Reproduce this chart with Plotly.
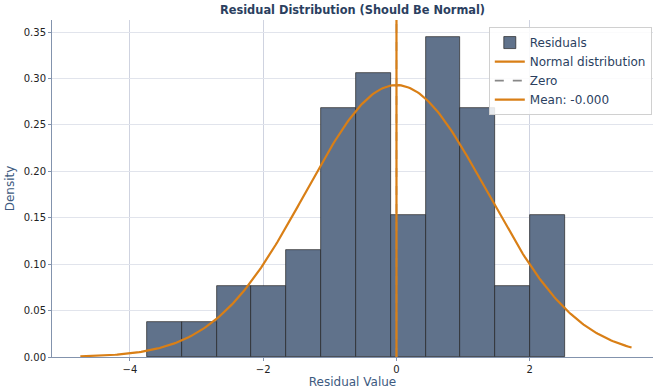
import numpy as np
import plotly.graph_objects as go

# Histogram of residuals: bin edges and counts per bin (n = 50)
bin_edges = [-3.745, -3.222, -2.699, -2.177, -1.654, -1.131, -0.609,
             -0.086, 0.437, 0.960, 1.482, 2.005, 2.528]
bin_counts = [1, 1, 2, 2, 3, 7, 8, 4, 9, 7, 2, 4]

# Fitted normal parameters and mean of residuals
mu = 0.0
sigma = 1.362
mean_label = "Mean: -0.000"

x_ticks = [-4, -2, 0, 2]
y_ticks = [0.00, 0.05, 0.10, 0.15, 0.20, 0.25, 0.30, 0.35]

edges = np.array(bin_edges)
counts = np.array(bin_counts)
widths = np.diff(edges)
centers = edges[:-1] + widths / 2
density = counts / (counts.sum() * widths)

xs = np.linspace(edges[0] - 1, edges[-1] + 1, 300)
pdf = np.exp(-0.5 * ((xs - mu) / sigma) ** 2) / (sigma * np.sqrt(2 * np.pi))

ORANGE = "#D97F16"
NAVY = "#2B3F5F"
Y_TOP = 0.363

fig = go.Figure()
fig.add_trace(go.Bar(
    x=centers, y=density, width=widths, name="Residuals",
    marker=dict(color="#60728B", line=dict(color="#222222", width=0.7)),
))
fig.add_trace(go.Scatter(
    x=xs, y=pdf, mode="lines", name="Normal distribution",
    line=dict(color=ORANGE, width=2.2),
))
fig.add_trace(go.Scatter(
    x=[0, 0], y=[0, Y_TOP], mode="lines", name="Zero",
    line=dict(color="#888888", width=1.6, dash="dash"),
))
fig.add_trace(go.Scatter(
    x=[mu, mu], y=[0, Y_TOP], mode="lines", name=mean_label,
    line=dict(color=ORANGE, width=2.2),
))

axis_line = "#8393AD"
fig.update_layout(
    width=655, height=390,
    margin=dict(l=52, r=2, t=20, b=33),
    paper_bgcolor="white", plot_bgcolor="white",
    font=dict(family="DejaVu Sans", size=10, color="#222222"),
    title=dict(text="<b>Residual Distribution (Should Be Normal)</b>",
               x=0.5, xref="paper", y=0.985, yanchor="top",
               font=dict(size=11.4, color=NAVY)),
    bargap=0,
    showlegend=True,
    legend=dict(x=0.998, y=0.979, xanchor="right", yanchor="top",
                bgcolor="rgba(255,255,255,0.85)", bordercolor="#d0d0d0", borderwidth=1,
                font=dict(size=12, color=NAVY), itemwidth=30, tracegroupgap=0),
    xaxis=dict(range=[-5.17, 3.85], tickvals=x_ticks,
               ticktext=["\u22124", "\u22122", "0", "2"],
               showgrid=True, gridcolor="#cfd3e0", gridwidth=0.8,
               showline=True, linecolor=axis_line, linewidth=1,
               ticks="outside", ticklen=3, tickcolor=axis_line,
               zeroline=False,
               title=dict(text="Residual Value", font=dict(size=12, color="#3D5A80"), standoff=3)),
    yaxis=dict(range=[0, Y_TOP], tickvals=y_ticks, tickformat=".2f",
               showgrid=True, gridcolor="#e1e4ec", gridwidth=0.8,
               showline=True, linecolor=axis_line, linewidth=1,
               ticks="outside", ticklen=3, tickcolor=axis_line,
               zeroline=False,
               title=dict(text="Density", font=dict(size=12, color="#3D5A80"), standoff=6)),
)

fig.write_html("out.html")
